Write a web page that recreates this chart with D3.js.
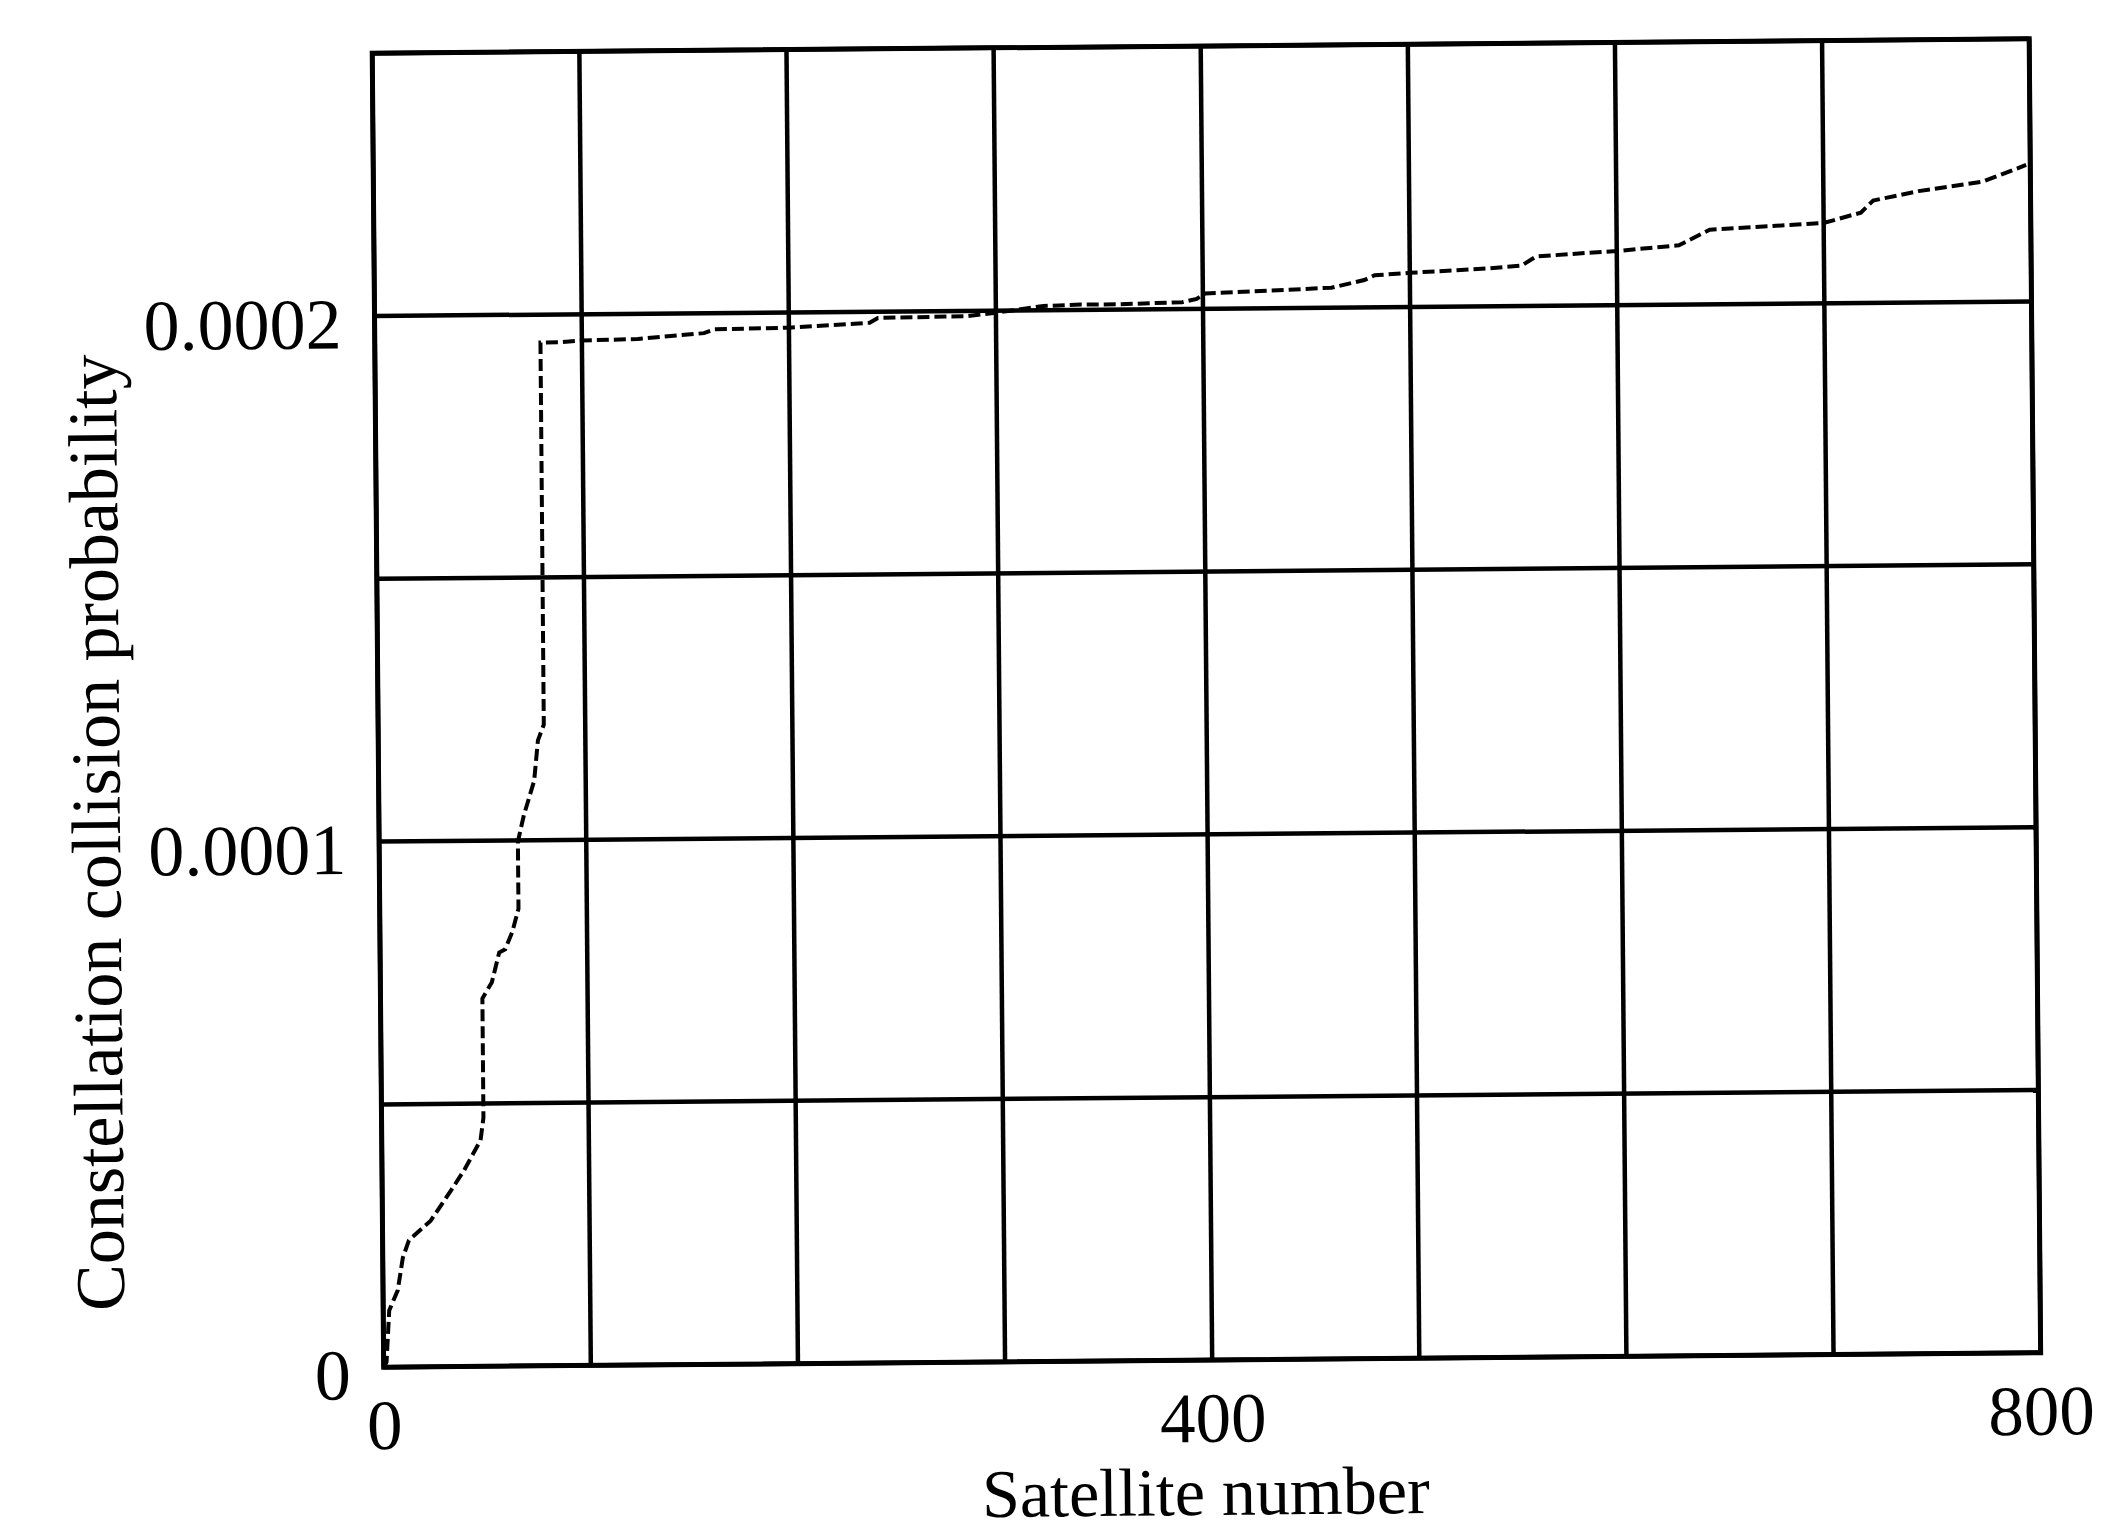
<!DOCTYPE html>
<html>
<head>
<meta charset="utf-8">
<script src="https://cdn.jsdelivr.net/npm/d3@7"></script>
<style>
  body { margin: 0; background: #fff; }
  text { font-family: "Liberation Serif", "Times New Roman", serif; fill: #000; }
</style>
</head>
<body>
<svg id="chart" width="2104" height="1539"></svg>
<script>
// satellite number (x) and cumulative constellation collision probability (y)
var satNum = [0, 1.4, 2.9, 7.1, 9.7, 12.7, 23.3, 33.2, 39.6, 47.7, 49.2, 49.2,
              50.7, 53.8, 57.5, 60.4, 63.9, 67, 67, 70, 75.1, 77.1, 80, 80,
              89, 100, 127, 159, 164, 200, 239, 243, 286, 300, 323, 341,
              360, 390, 397, 401, 462, 478, 483, 500, 537, 554, 561, 586,
              600, 630, 645, 700, 718, 724, 746, 777, 798];
var collProb = [0, 0.1e-5, 1.08e-5, 1.46e-5, 2.08e-5, 2.41e-5, 2.78e-5, 3.35e-5, 3.73e-5, 4.3e-5, 4.73e-5, 7.0e-5,
                7.1e-5, 7.3e-5, 7.87e-5, 7.93e-5, 8.26e-5, 8.7e-5, 9.98e-5, 10.48e-5, 11.13e-5, 11.9e-5, 12.2e-5, 19.47e-5,
                19.47e-5, 19.5e-5, 19.52e-5, 19.62e-5, 19.69e-5, 19.71e-5, 19.79e-5, 19.88e-5, 19.9e-5, 19.96e-5, 20.08e-5, 20.1e-5,
                20.1e-5, 20.13e-5, 20.19e-5, 20.29e-5, 20.38e-5, 20.52e-5, 20.61e-5, 20.65e-5, 20.72e-5, 20.77e-5, 20.94e-5, 21.0e-5,
                21.03e-5, 21.13e-5, 21.42e-5, 21.53e-5, 21.72e-5, 21.95e-5, 22.12e-5, 22.29e-5, 22.6e-5];

// grid and labelled ticks
var xGrid = [0, 100, 200, 300, 400, 500, 600, 700, 800];
var xLabels = [0, 400, 800];
var yGrid = [0, 0.00005, 0.0001, 0.00015, 0.0002, 0.00025];
var yLabels = [0, 0.0001, 0.0002];

var xTitle = "Satellite number";
var yTitle = "Constellation collision probability";

var L = 378, R = 2035, T = 46, B = 1360;

var svg = d3.select("#chart");
// the scan is slightly tilted, so tilt the whole chart the same way
var g = svg.append("g").attr("transform", "rotate(-0.5,1206,710)");

var x = d3.scaleLinear().domain([0, 800]).range([L, R]);
var y = d3.scaleLinear().domain([0, 0.00025]).range([B, T]);

//vertical grid lines
g.selectAll("line.vg")
  .data(xGrid)
  .enter().append("line")
  .attr("class", "vg")
  .attr("x1", function(d){ return x(d); })
  .attr("x2", function(d){ return x(d); })
  .attr("y1", T).attr("y2", B)
  .style("stroke", "#000").style("stroke-width", 4.5);

//horizontal grid lines
g.selectAll("line.hg")
  .data(yGrid)
  .enter().append("line")
  .attr("class", "hg")
  .attr("x1", L).attr("x2", R)
  .attr("y1", function(d){ return y(d); })
  .attr("y2", function(d){ return y(d); })
  .style("stroke", "#000").style("stroke-width", 4.5);

//frame
g.append("rect")
  .attr("x", L).attr("y", T)
  .attr("width", R - L).attr("height", B - T)
  .style("fill", "none").style("stroke", "#000").style("stroke-width", 5);

//x tick labels
var xAxis = d3.axisBottom(x).tickValues(xLabels).tickSize(0).tickPadding(0)
  .tickFormat(d3.format("d"));
var xa = g.append("g").attr("transform", "translate(0," + B + ")").call(xAxis);
xa.select(".domain").remove();
xa.selectAll("text")
  .attr("y", 82).attr("dy", null)
  .style("font-size", "71px")
  .style("font-family", "'Liberation Serif', serif");

//y tick labels
var yAxis = d3.axisLeft(y).tickValues(yLabels).tickSize(0).tickPadding(33)
  .tickFormat(function(d){ return d === 0 ? "0" : d.toFixed(4); });
var ya = g.append("g").attr("transform", "translate(" + L + ",0)").call(yAxis);
ya.select(".domain").remove();
ya.selectAll("text")
  .attr("y", 7)
  .attr("dy", "0.34em")
  .style("font-size", "72px")
  .style("font-family", "'Liberation Serif', serif");

//axis titles
g.append("text")
  .attr("x", 1199).attr("y", 1515)
  .attr("text-anchor", "middle")
  .style("font-size", "68px")
  .text(xTitle);

g.append("text")
  .attr("transform", "translate(119,823) rotate(-90)")
  .attr("text-anchor", "middle")
  .style("font-size", "70px")
  .text(yTitle);

//the probability curve
var line = d3.line()
  .x(function(d, i){ return x(satNum[i]); })
  .y(function(d){ return y(d); });

g.append("path")
  .datum(collProb)
  .attr("d", line)
  .style("fill", "none")
  .style("stroke", "#000")
  .style("stroke-width", 4)
  .style("stroke-dasharray", "12 5");
</script>
</body>
</html>
